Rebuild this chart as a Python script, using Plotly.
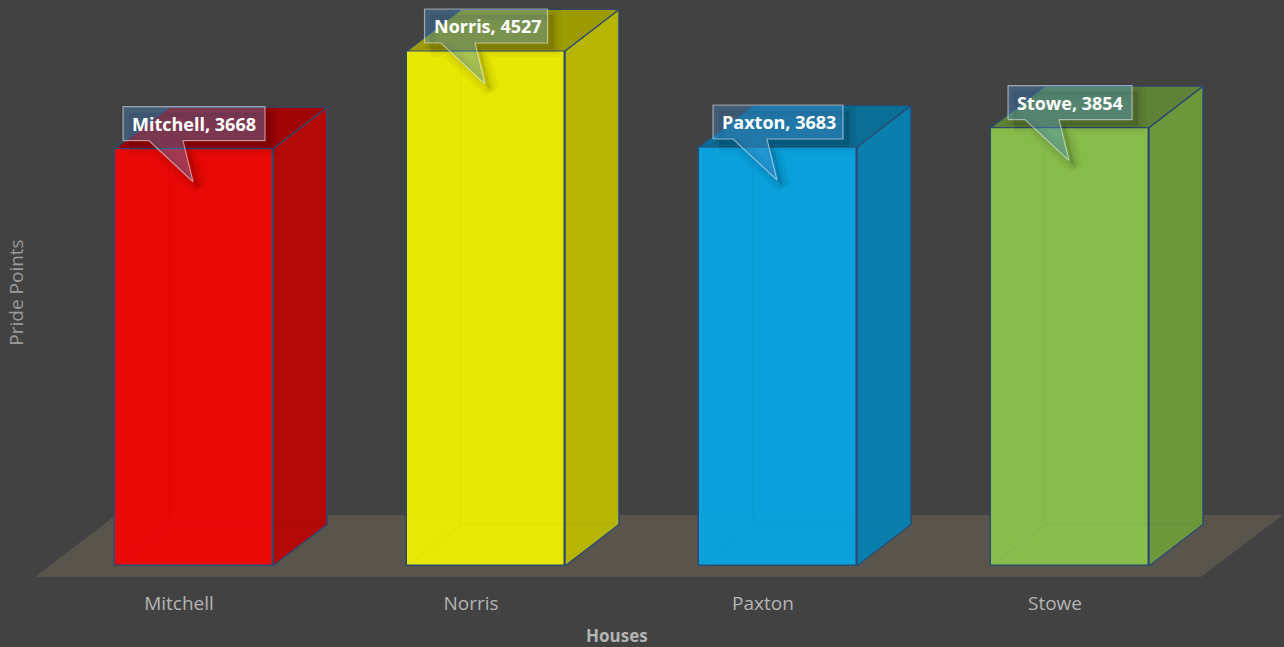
import plotly.graph_objects as go

categories = ["Mitchell", "Norris", "Paxton", "Stowe"]
values = [3668, 4527, 3683, 3854]
front_colors = ["#EE0805", "#EDED03", "#08A4E0", "#8AC04C"]
side_colors = ["#B30A07", "#B6B504", "#0A7FAE", "#6D973B"]
top_colors = ["#A00505", "#9C9C02", "#0B6E96", "#5F8236"]
box_widths_px = [142, 123, 130, 124]

# pixel <-> data scale of the plot
PX_X = 292.0           # px per category
PX_Y = 515.0 / 4527.0  # px per value unit
BAR_W = 158 / PX_X
DX = 54 / PX_X
DY = 41.5 / PX_Y
EDGE = "#2C4A72"
L, T, R, B = 30, 0, 0, 62

def ux(p):
    return p / PX_X

def uy(p):
    return p / PX_Y

fig = go.Figure()

# front faces
fig.add_trace(go.Bar(
    x=list(range(len(categories))), y=values, width=BAR_W,
    marker=dict(color=front_colors, line=dict(color=EDGE, width=1.5), opacity=0.97),
    hoverinfo="skip", showlegend=False))

for i, (v, side, top) in enumerate(zip(values, side_colors, top_colors)):
    x0, x1 = i - BAR_W / 2, i + BAR_W / 2
    # side face
    fig.add_trace(go.Scatter(
        x=[x1, x1 + DX, x1 + DX, x1, x1], y=[0, DY, v + DY, v, 0],
        mode="lines", fill="toself", fillcolor=side,
        line=dict(color=EDGE, width=1.5), hoverinfo="skip", showlegend=False))
    # top face
    fig.add_trace(go.Scatter(
        x=[x0, x0 + DX, x1 + DX, x1, x0], y=[v, v + DY, v + DY, v, v],
        mode="lines", fill="toself", fillcolor=top,
        line=dict(color=EDGE, width=1.2), hoverinfo="skip", showlegend=False))
    # faint hidden back edges seen through the front face
    fig.add_trace(go.Scatter(
        x=[x0, x0 + DX, x1 + DX, None, x0 + DX, x0 + DX],
        y=[0, DY, DY, None, DY, v],
        mode="lines", line=dict(color="rgba(0,0,0,0.022)", width=1.5),
        hoverinfo="skip", showlegend=False))

# callouts
for i, (cat, v, bw) in enumerate(zip(categories, values, box_widths_px)):
    half = ux(bw / 2)
    by0 = v + uy(8)
    by1 = v + uy(42)
    tipy = v - uy(33)
    px = [i - half, i - ux(45), i - ux(1), i - ux(11), i + half, i + half, i - half, i - half]
    py = [by0, by0, tipy, by0, by0, by1, by1, by0]
    # soft shadow
    for w, a in [(16, 0.03), (10, 0.035), (5, 0.04)]:
        fig.add_trace(go.Scatter(
            x=[p + ux(6) for p in px], y=[p - uy(6) for p in py],
            mode="lines", fill="toself", fillcolor=f"rgba(0,0,0,{a})",
            line=dict(color=f"rgba(0,0,0,{a})", width=w),
            hoverinfo="skip", showlegend=False))
    fig.add_trace(go.Scatter(
        x=px, y=py, mode="lines", fill="toself",
        fillcolor="rgba(85,165,240,0.33)",
        line=dict(color="rgba(255,255,255,0.5)", width=1.2),
        hoverinfo="skip", showlegend=False))
    fig.add_annotation(
        x=i - half + ux(7), y=(by0 + by1) / 2, text=f"<b>{cat}, {v}</b>", showarrow=False,
        xanchor="left", yanchor="middle",
        font=dict(family="Open Sans", size=18, color="#FFFFFF"))

# floor
fy0 = -uy(11)
fy1 = uy(51)
fxl0, fxl1 = ux(35 - 194), ux(116 - 194)
fxr0, fxr1 = ux(1201 - 194), ux(1283 - 194)
fig.add_shape(
    type="path", layer="below", xref="x", yref="y",
    path=f"M {fxl0} {fy0} L {fxl1} {fy1} L {fxr1} {fy1} L {fxr0} {fy0} Z",
    fillcolor="#59554C", line=dict(width=0))

# x axis title sits left of the plot centre, so it is placed by paper position
fig.add_annotation(
    xref="paper", yref="paper", x=(617 - L) / (1284 - L - R), y=-(635 - (647 - B)) / (647 - T - B),
    text="<b>Houses</b>", showarrow=False, xanchor="center", yanchor="middle",
    font=dict(family="Open Sans", size=17, color="#B4B4B4"))

fig.update_layout(
    width=1284, height=647, autosize=False,
    margin=dict(l=L, r=R, t=T, b=B, pad=0),
    paper_bgcolor="#424242", plot_bgcolor="#424242",
    showlegend=False, bargap=0,
    font=dict(family="Open Sans", color="#B4B4B4"),
    xaxis=dict(
        range=[ux(L - 194), ux(1284 - 194)],
        tickmode="array",
        tickvals=[i - ux(15) for i in range(len(categories))],
        ticktext=categories,
        ticks="", ticklabelstandoff=5,
        tickfont=dict(family="Open Sans", size=19, color="#B4B4B4"),
        showgrid=False, zeroline=False, showline=False),
    yaxis=dict(
        range=[-(647 - B - 566) / PX_Y, 566 / PX_Y],
        showticklabels=False, ticks="",
        showgrid=False, zeroline=False, showline=False,
        title=dict(text="Pride Points", standoff=0,
                   font=dict(family="Open Sans", size=19, color="#9A9A9A"))),
)

fig.write_html("out.html", config=dict(displayModeBar=False),
               post_script="document.body.style.margin='0';document.body.style.background='#424242';")
